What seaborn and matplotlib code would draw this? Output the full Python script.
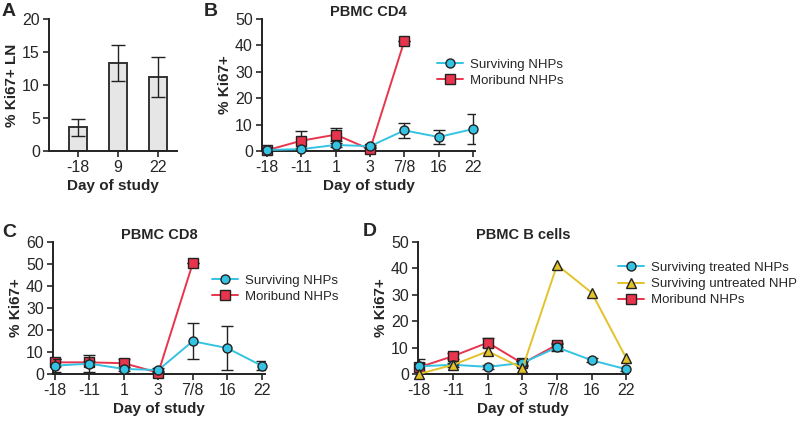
import numpy as np
import matplotlib
matplotlib.use("Agg")
import matplotlib.pyplot as plt
import seaborn as sns

# panel A: Ki67+ in lymph node
a_days = ["-18", "9", "22"]
a_vals = [3.6, 13.3, 11.2]
a_err = [1.3, 2.7, 3.0]

days = ["-18", "-11", "1", "3", "7/8", "16", "22"]

# panel B: PBMC CD4
cd4_surv = [0.4, 0.7, 2.3, 1.8, 7.8, 5.3, 8.3]
cd4_surv_err = [0.4, 0.4, 0.6, 0.5, 2.9, 2.5, 5.7]
cd4_mori = [0.3, 3.9, 6.2, 0.6, 41.7]
cd4_mori_err = [0.3, 3.7, 2.5, 0.8, 0.0]

# panel C: PBMC CD8
cd8_surv = [3.8, 4.7, 2.3, 1.8, 14.9, 11.8, 3.8]
cd8_surv_err = [3.0, 3.8, 1.0, 0.8, 8.3, 9.8, 1.9]
cd8_mori = [5.3, 5.3, 4.9, 0.6, 50.3]
cd8_mori_err = [1.5, 0.8, 2.0, 0.8, 0.0]

# panel D: PBMC B cells
b_treat = [2.9, 3.5, 2.7, 4.2, 10.1, 5.2, 1.8]
b_treat_err = [2.7, 0.8, 0.8, 0.8, 1.2, 0.8, 0.8]
b_untreat = [0.0, 3.5, 8.6, 2.2, 41.3, 30.8, 6.0]
b_mori = [2.5, 6.8, 11.9, 4.0, 11.1]
b_mori_err = [1.5, 1.2, 1.6, 0.8, 0.8]

CYAN = "#35c3e3"
RED = "#e8354d"
YELLOW = "#e3c22a"

sns.set_theme(style="ticks")
plt.rcParams["font.family"] = ["Liberation Sans", "DejaVu Sans"]
plt.rcParams["axes.linewidth"] = 1.4
plt.rcParams["xtick.major.width"] = 1.2
plt.rcParams["ytick.major.width"] = 1.2
plt.rcParams["xtick.major.size"] = 4
plt.rcParams["ytick.major.size"] = 4
plt.rcParams["xtick.major.pad"] = 2.5
plt.rcParams["ytick.major.pad"] = 2.5
plt.rcParams["xtick.labelsize"] = 11.5
plt.rcParams["ytick.labelsize"] = 11.5
plt.rcParams["axes.edgecolor"] = "#222222"

fig = plt.figure(figsize=(8, 4.21), dpi=100)


def fax(l, r, top, bot):
    # pixel box -> figure axes
    return fig.add_axes([l / 800, 1 - bot / 421, (r - l) / 800, (bot - top) / 421])


def series(ax, vals, err, color, marker, label, ms, z):
    x = np.arange(len(vals))
    if err is not None:
        ax.errorbar(x, vals, yerr=err, fmt="none", ecolor="#222222",
                    elinewidth=1.0, capsize=4.5, capthick=1.0, zorder=z - 0.5)
    sns.lineplot(x=x, y=vals, color=color, marker=marker, ms=ms, mec="#222222",
                 mew=1.0, lw=1.4, label=label, ax=ax, zorder=z, clip_on=False)


def finish(ax, ymax, step, title, xlim):
    ax.set_xticks(range(len(days)))
    ax.set_xticklabels(days)
    ax.set_xlim(*xlim)
    ax.set_ylim(0, ymax)
    ax.set_yticks(np.arange(0, ymax + 1, step))
    ax.set_xlabel("Day of study", fontsize=11, fontweight="bold", labelpad=3)
    ax.set_ylabel("% Ki67+", fontsize=11, fontweight="bold", labelpad=2)
    ax.set_title(title, fontsize=10.5, fontweight="bold", pad=1)
    sns.despine(ax=ax)


def legend(ax, order, x, y):
    h, l = ax.get_legend_handles_labels()
    ax.legend([h[i] for i in order], [l[i] for i in order], loc="center left",
              bbox_to_anchor=(x / 800, 1 - y / 421), bbox_transform=fig.transFigure,
              frameon=False, fontsize=9.5, handlelength=2.0, handletextpad=0.5,
              labelspacing=0.3, borderpad=0, borderaxespad=0)


# A
axA = fax(49, 177, 19, 151)
sns.barplot(x=a_days, y=a_vals, color="#e6e6e6", edgecolor="#333333",
            linewidth=1.4, width=0.45, errorbar=None, ax=axA, saturation=1)
axA.errorbar(range(3), a_vals, yerr=a_err, fmt="none", ecolor="#222222",
             elinewidth=1.0, capsize=5, capthick=1.0)
axA.set_xlim(-0.725, 2.475)
axA.set_ylim(0, 20)
axA.set_yticks([0, 5, 10, 15, 20])
axA.set_xlabel("Day of study", fontsize=11, fontweight="bold", labelpad=3)
axA.set_ylabel("% Ki67+ LN", fontsize=11, fontweight="bold", labelpad=2)
sns.despine(ax=axA)

# B
axB = fax(262, 475, 19, 151)
series(axB, cd4_mori, cd4_mori_err, RED, "s", "Moribund NHPs", 6.5, 3)
series(axB, cd4_surv, cd4_surv_err, CYAN, "o", "Surviving NHPs", 6.5, 4)
finish(axB, 50, 10, "PBMC CD4", (-0.15, 6.06))
legend(axB, [1, 0], 437, 72.5)

# C
axC = fax(53, 265, 242, 374)
series(axC, cd8_mori, cd8_mori_err, RED, "s", "Moribund NHPs", 6.5, 3)
series(axC, cd8_surv, cd8_surv_err, CYAN, "o", "Surviving NHPs", 6.5, 4)
finish(axC, 60, 10, "PBMC CD8", (-0.06, 6.1))
legend(axC, [1, 0], 212, 288.5)

# D
axD = fax(418, 628, 242, 374)
series(axD, b_mori, b_mori_err, RED, "s", "Moribund NHPs", 6.5, 3)
series(axD, b_untreat, None, YELLOW, "^", "Surviving untreated NHP", 7, 5)
series(axD, b_treat, b_treat_err, CYAN, "o", "Surviving treated NHPs", 6.5, 4)
finish(axD, 50, 10, "PBMC B cells", (-0.02, 6.05))
legend(axD, [2, 1, 0], 618, 284)

for letter, x, y in [("A", 2, 12), ("B", 204, 12), ("C", 2, 233), ("D", 363, 232)]:
    fig.text(x / 800, 1 - y / 421, letter, fontsize=14, fontweight="bold", va="center")

fig.savefig("out.png", dpi=100)
